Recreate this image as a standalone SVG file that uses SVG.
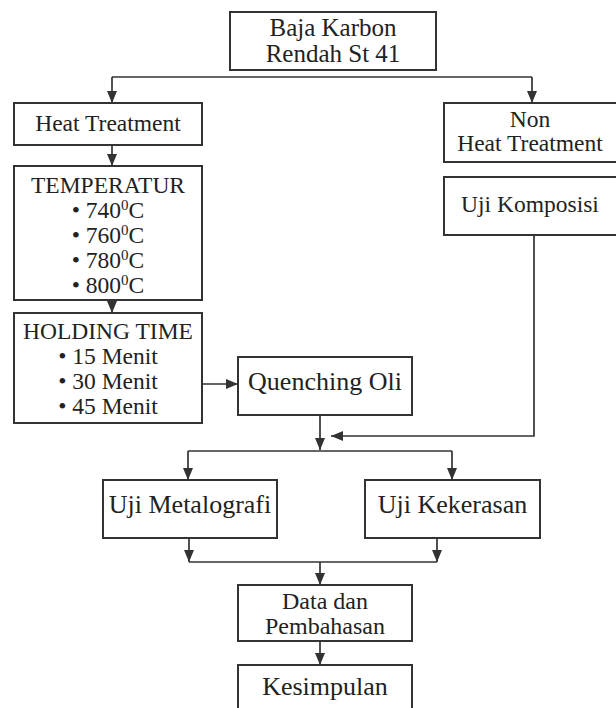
<svg xmlns="http://www.w3.org/2000/svg" width="616" height="708" viewBox="0 0 616 708">
<style>
.box{fill:#fff;stroke:#333;stroke-width:2}
.ln{fill:none;stroke:#333;stroke-width:1.7}
text{font-family:"Liberation Serif","Times New Roman",serif;fill:#222;text-anchor:middle}
.s{font-size:23.5px}
.b{font-size:26px}
.sup{font-size:15px}
</style>
<defs>
<marker id="ah" markerUnits="userSpaceOnUse" markerWidth="12" markerHeight="14" viewBox="0 0 12 14" refX="12" refY="7" orient="auto">
<path d="M0,2 L12,7 L0,12 Z" fill="#333"/>
</marker>
</defs>
<rect width="616" height="708" fill="#fff"/>
<g id="connectors">
<path class="ln" d="M112,77 H532"/>
<path class="ln" d="M112,77 V103" marker-end="url(#ah)"/>
<path class="ln" d="M532,77 V103" marker-end="url(#ah)"/>
<path class="ln" d="M112,145 V166" marker-end="url(#ah)"/>
<path class="ln" d="M112,300 V313" marker-end="url(#ah)"/>
<path class="ln" d="M202,384 H238" marker-end="url(#ah)"/>
<path class="ln" d="M320,415 V450" marker-end="url(#ah)"/>
<path class="ln" d="M534,235 V436 H331" marker-end="url(#ah)"/>
<path class="ln" d="M188,451 H452"/>
<path class="ln" d="M188,451 V480" marker-end="url(#ah)"/>
<path class="ln" d="M452,451 V480" marker-end="url(#ah)"/>
<path class="ln" d="M189,538 V562" marker-end="url(#ah)"/>
<path class="ln" d="M437,538 V562" marker-end="url(#ah)"/>
<path class="ln" d="M189,562 H437"/>
<path class="ln" d="M320,562 V585" marker-end="url(#ah)"/>
<path class="ln" d="M320,641 V665" marker-end="url(#ah)"/>
</g>
<g id="baja">
<rect class="box" x="230" y="12" width="206" height="58"/>
<text style="font-size:25px" x="333" y="36">Baja Karbon<tspan x="333" dy="26">Rendah St 41</tspan></text>
</g>
<g id="heat">
<rect class="box" x="14" y="103" width="188" height="42"/>
<text class="s" x="108" y="131">Heat Treatment</text>
</g>
<g id="temperatur">
<rect class="box" x="14" y="166" width="188" height="134"/>
<text class="s" x="108" y="193">TEMPERATUR</text>
<text class="s" x="108" y="217.5">• 740<tspan class="sup" dy="-8">0</tspan><tspan dy="8">C</tspan></text>
<text class="s" x="108" y="242.5">• 760<tspan class="sup" dy="-8">0</tspan><tspan dy="8">C</tspan></text>
<text class="s" x="108" y="267.5">• 780<tspan class="sup" dy="-8">0</tspan><tspan dy="8">C</tspan></text>
<text class="s" x="108" y="292.5">• 800<tspan class="sup" dy="-8">0</tspan><tspan dy="8">C</tspan></text>
</g>
<g id="holding">
<rect class="box" x="14" y="313" width="188" height="110"/>
<text class="s" x="108" y="339">HOLDING TIME</text>
<text class="s" x="108" y="364">• 15 Menit</text>
<text class="s" x="108" y="389">• 30 Menit</text>
<text class="s" x="108" y="414">• 45 Menit</text>
</g>
<g id="quenching">
<rect class="box" x="238" y="357" width="174" height="58"/>
<text class="b" x="325" y="390">Quenching Oli</text>
</g>
<g id="nonheat">
<rect class="box" x="444" y="103" width="180" height="59"/>
<text class="s" x="530" y="127">Non<tspan x="530" dy="24">Heat Treatment</tspan></text>
</g>
<g id="komposisi">
<rect class="box" x="444" y="177" width="180" height="58"/>
<text class="s" x="530" y="212">Uji Komposisi</text>
</g>
<g id="metalografi">
<rect class="box" x="103" y="480" width="174" height="58"/>
<text class="b" x="190" y="513">Uji Metalografi</text>
</g>
<g id="kekerasan">
<rect class="box" x="365" y="480" width="175" height="58"/>
<text class="b" x="452.5" y="513">Uji Kekerasan</text>
</g>
<g id="data">
<rect class="box" x="238" y="585" width="174" height="56"/>
<text style="font-size:24px" x="325" y="608.5">Data dan<tspan x="325" dy="25">Pembahasan</tspan></text>
</g>
<g id="kesimpulan">
<rect class="box" x="238" y="665" width="174" height="52"/>
<text class="b" x="325" y="695">Kesimpulan</text>
</g>
</svg>
